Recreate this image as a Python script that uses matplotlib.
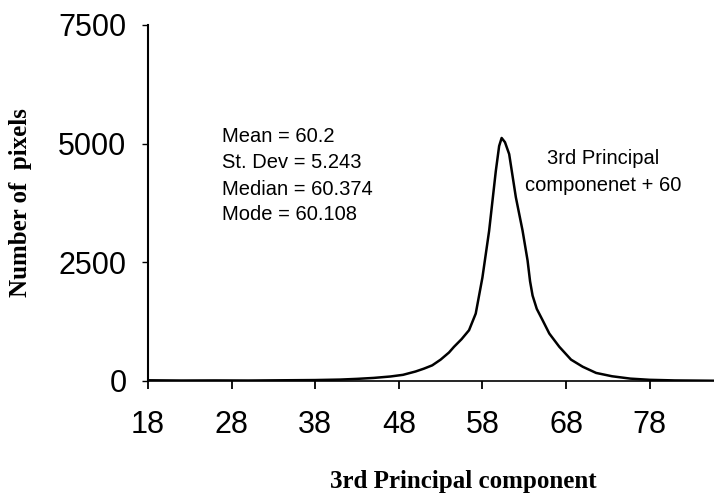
import matplotlib
matplotlib.use("Agg")
import matplotlib.pyplot as plt

# histogram of the 3rd principal component (+60)
pc3_value = [18, 22, 26, 30, 34, 38, 41, 43, 45, 47, 48.5, 50, 51, 52, 53, 54,
             54.6, 55.5, 56.4, 57.2, 58.0, 58.8, 59.6, 60.0, 60.3, 60.7, 61.2,
             62.0, 62.8, 63.4, 63.7, 64.0, 64.5, 65.2, 66.0, 67.2, 68.6, 70,
             71.6, 73.5, 75.7, 78, 81, 84, 86]
n_pixels = [15, 10, 12, 10, 15, 20, 30, 45, 65, 95, 130, 200, 260, 330, 450, 600,
            720, 880, 1070, 1420, 2180, 3160, 4420, 4950, 5120, 5030, 4780,
            3870, 3170, 2540, 2100, 1800, 1520, 1280, 1000, 720, 450, 300,
            170, 100, 50, 25, 12, 8, 5]

x_ticks = [18, 28, 38, 48, 58, 68, 78]
y_ticks = [0, 2500, 5000, 7500]

stats_lines = ["Mean = 60.2", "St. Dev = 5.243", "Median = 60.374", "Mode = 60.108"]
curve_label = ["3rd Principal", "componenet + 60"]

W, H = 714, 504
fig = plt.figure(figsize=(W / 100, H / 100), dpi=100)

# axes box in pixels: left 148, right edge of image, top 25, bottom 381
ax = fig.add_axes([148 / W, (H - 381) / H, (W - 148) / W, (381 - 25) / H])

ax.plot(pc3_value, n_pixels, color="black", linewidth=1.8)

ax.set_xlim(18, 85.7)
ax.set_ylim(0, 7500)
ax.set_xticks(x_ticks)
ax.set_yticks(y_ticks)

sans = ["Liberation Sans", "DejaVu Sans"]
serif = ["Liberation Serif", "DejaVu Serif"]

for lbl in ax.get_xticklabels() + ax.get_yticklabels():
    lbl.set_fontfamily(sans)
    lbl.set_fontsize(22)

ax.tick_params(axis="x", direction="out", length=6, width=1.3, pad=15)
ax.tick_params(axis="y", direction="out", length=4.5, width=1.0, pad=11)

for side in ["top", "right"]:
    ax.spines[side].set_visible(False)
ax.spines["left"].set_linewidth(1.5)
ax.spines["bottom"].set_linewidth(1.2)

ax.set_xlabel("3rd Principal component", fontfamily=serif, fontweight="bold",
              fontsize=18)
ax.set_ylabel("Number of  pixels", fontfamily=serif, fontweight="bold",
              fontsize=18)
ax.xaxis.set_label_coords((463 - 148) / (W - 148), -(470 - 381) / (381 - 25))
ax.yaxis.set_label_coords((32 - 148) / (W - 148), 0.5)


def fx(px):
    return px / W


def fy(py):
    return 1 - py / H


# summary statistics block (baselines in pixels)
for txt, base in zip(stats_lines, [142, 168, 195, 220]):
    fig.text(fx(222), fy(base), txt, fontfamily=sans, fontsize=14.5,
             ha="left", va="baseline")

for txt, base in zip(curve_label, [164, 191]):
    fig.text(fx(603), fy(base), txt, fontfamily=sans, fontsize=14.5,
             ha="center", va="baseline")

fig.savefig("out.png", dpi=100)
